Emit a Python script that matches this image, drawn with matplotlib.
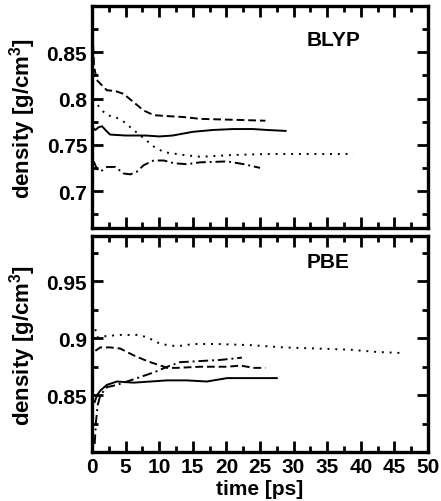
import numpy as np
import matplotlib
matplotlib.use("Agg")
import matplotlib.pyplot as plt
from matplotlib.ticker import MultipleLocator

plt.rcParams['font.family'] = ['Liberation Sans', 'DejaVu Sans']
plt.rcParams['font.weight'] = 'bold'
plt.rcParams['mathtext.fontset'] = 'custom'
plt.rcParams['mathtext.rm'] = 'Liberation Sans:bold'
plt.rcParams['mathtext.default'] = 'rm'

# ---- BLYP ----
blyp_solid_t = [0.2, 0.5, 1.0, 1.5, 2.0, 2.7, 5, 8, 10, 12, 15, 18, 21, 24, 26, 28.8]
blyp_solid_d = [0.768, 0.766, 0.769, 0.770, 0.766, 0.761, 0.760, 0.760, 0.759, 0.760,
                0.764, 0.766, 0.767, 0.767, 0.766, 0.765]

blyp_dash_t = [0.1, 0.3, 0.7, 2.2, 3.5, 4.7, 6.2, 7.7, 9.2, 11.2, 13.6, 16.1, 21.1, 25.8]
blyp_dash_d = [0.87, 0.835, 0.82, 0.809, 0.808, 0.805, 0.796, 0.787, 0.782, 0.781,
               0.780, 0.778, 0.777, 0.776]

blyp_dot_t = [0.25, 1.24, 2.23, 3.47, 4.7, 6.2, 7.7, 9.2, 10.7, 13.6, 16.1, 21.1, 26, 31, 38.9]
blyp_dot_d = [0.80, 0.789, 0.782, 0.780, 0.775, 0.766, 0.757, 0.748, 0.742, 0.739,
              0.737, 0.739, 0.740, 0.740, 0.740]

blyp_dd_t = [0.25, 0.74, 1.24, 2.23, 3.47, 4.7, 5.7, 6.7, 7.7, 9.2, 10.7, 12.2, 14.1,
             16.1, 20.1, 22.6, 25]
blyp_dd_d = [0.732, 0.724, 0.721, 0.726, 0.726, 0.719, 0.718, 0.721, 0.728, 0.733,
             0.733, 0.730, 0.729, 0.731, 0.732, 0.729, 0.725]

# ---- PBE ----
pbe_dot_t = [0.5, 0.74, 2.2, 4.2, 6.7, 8.2, 10.2, 12.6, 15.1, 18.6, 23.6, 28.5, 33.5,
             38.4, 42.4, 46.4]
pbe_dot_d = [0.908, 0.901, 0.902, 0.903, 0.903, 0.901, 0.895, 0.893, 0.895, 0.895,
             0.894, 0.892, 0.891, 0.890, 0.888, 0.887]

pbe_dash_t = [0.5, 1.24, 2.7, 4.2, 6.2, 8.2, 9.7, 11.2, 12.6, 16.1, 20.1, 22.1, 24.1, 25.8]
pbe_dash_d = [0.889, 0.892, 0.892, 0.891, 0.885, 0.880, 0.877, 0.874, 0.874, 0.875,
              0.875, 0.876, 0.874, 0.874]

pbe_solid_t = [0.4, 0.74, 1.24, 2.2, 3.7, 6.2, 8.7, 11.2, 14.1, 17.1, 20.1, 24.1, 27.5]
pbe_solid_d = [0.844, 0.850, 0.854, 0.859, 0.862, 0.861, 0.862, 0.863, 0.863, 0.862,
               0.865, 0.865, 0.865]

pbe_dd_t = [0.4, 0.6, 0.84, 1.24, 2.2, 3.7, 5.2, 7.2, 9.2, 11.2, 13.1, 16.1, 19.1, 22.3]
pbe_dd_d = [0.807, 0.827, 0.841, 0.850, 0.857, 0.859, 0.862, 0.866, 0.870, 0.875,
            0.879, 0.880, 0.881, 0.883]

DOT = (0, (1, 3))
DASH = (0, (4, 2))
DASHDOT = (0, (5, 2, 1, 2))
lw = 1.4

fig = plt.figure(figsize=(4.41, 5.02), dpi=100)
ax1 = fig.add_axes([0.2086, 0.5438, 0.762, 0.4422])
ax2 = fig.add_axes([0.2086, 0.0976, 0.762, 0.4303])

ax1.plot(blyp_solid_t, blyp_solid_d, color='k', lw=lw, ls='-')
ax1.plot(blyp_dash_t, blyp_dash_d, color='k', lw=lw, ls=DASH)
ax1.plot(blyp_dot_t, blyp_dot_d, color='k', lw=lw, ls=DOT)
ax1.plot(blyp_dd_t, blyp_dd_d, color='k', lw=lw, ls=DASHDOT)

ax2.plot(pbe_dot_t, pbe_dot_d, color='k', lw=lw, ls=DOT)
ax2.plot(pbe_dash_t, pbe_dash_d, color='k', lw=lw, ls=DASH)
ax2.plot(pbe_solid_t, pbe_solid_d, color='k', lw=lw, ls='-')
ax2.plot(pbe_dd_t, pbe_dd_d, color='k', lw=lw, ls=DASHDOT)

ax1.set_ylim(0.66, 0.90)
ax1.set_yticks([0.7, 0.75, 0.8, 0.85])
ax1.set_yticklabels(['0.7', '0.75', '0.8', '0.85'])
ax2.set_ylim(0.80, 0.99)
ax2.set_yticks([0.85, 0.9, 0.95])
ax2.set_yticklabels(['0.85', '0.9', '0.95'])

for ax in (ax1, ax2):
    ax.set_xlim(0, 50)
    ax.xaxis.set_major_locator(MultipleLocator(5))
    ax.xaxis.set_minor_locator(MultipleLocator(2.5))
    ax.yaxis.set_minor_locator(MultipleLocator(0.025))
    ax.tick_params(which='both', direction='in', top=True, right=True, width=2,
                   labelsize=15)
    ax.tick_params(which='major', length=8)
    ax.tick_params(which='minor', length=4)
    for s in ax.spines.values():
        s.set_linewidth(2.4)
    ax.set_ylabel(r'density [g/cm$^3$]', fontsize=16, fontweight='bold')
    ax.yaxis.set_label_coords(-0.16, 0.5)
    for lab in ax.get_xticklabels() + ax.get_yticklabels():
        lab.set_fontweight('bold')

ax1.tick_params(labelbottom=False)
ax2.set_xlabel('time [ps]', fontsize=15, fontweight='bold', labelpad=2)

ax1.text(0.64, 0.85, 'BLYP', transform=ax1.transAxes, fontsize=15,
         fontweight='bold', va='center')
ax2.text(0.64, 0.88, 'PBE', transform=ax2.transAxes, fontsize=15,
         fontweight='bold', va='center')

fig.savefig('out.png', dpi=100)
